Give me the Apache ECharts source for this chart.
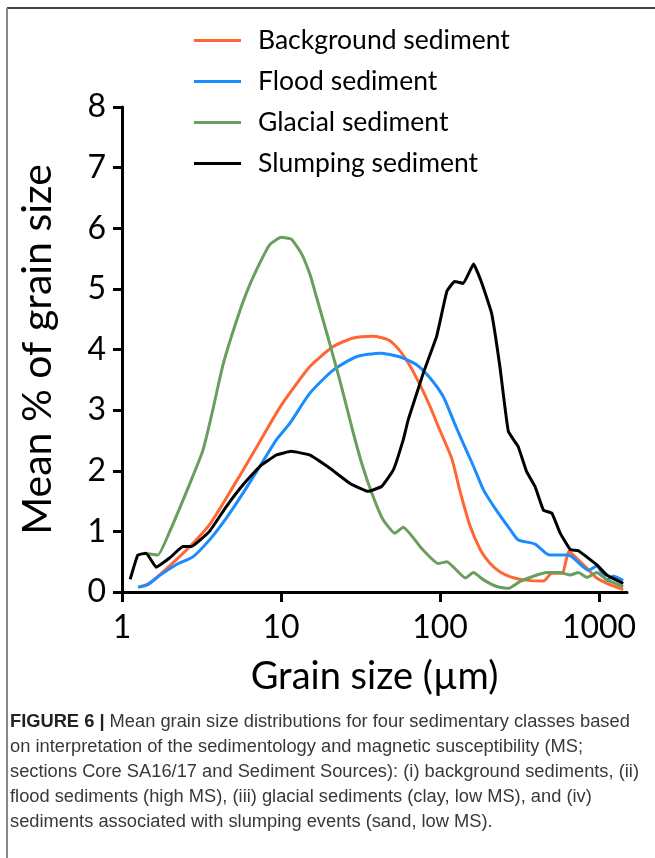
<!DOCTYPE html>
<html>
<head>
<meta charset="utf-8">
<script src="https://cdn.jsdelivr.net/npm/echarts@6/dist/echarts.min.js"></script>
<style>
  html, body { margin: 0; padding: 0; background: #fff; }
  #chart { width: 655px; height: 858px; }
</style>
</head>
<body>
<div id="chart"></div>
<script>
// Grain size (µm) and mean % per sediment class
const bgSize = [1.28, 1.45, 1.72, 2.19, 2.79, 3.55, 4.53, 5.77, 7.35, 9.6, 11.35, 15.2, 21.3, 28.5, 38, 47.2, 55.5, 64.1, 74.1, 86.6, 97.5, 118.6, 134, 154, 180, 207, 239, 278, 336, 447, 505, 585, 648, 708, 840, 967, 1170, 1420];
const bgPct = [0.08, 0.13, 0.28, 0.53, 0.80, 1.11, 1.55, 2.01, 2.48, 3.00, 3.28, 3.72, 4.05, 4.19, 4.22, 4.16, 3.99, 3.75, 3.44, 3.06, 2.73, 2.20, 1.65, 1.10, 0.69, 0.47, 0.33, 0.25, 0.20, 0.18, 0.31, 0.31, 0.67, 0.58, 0.39, 0.23, 0.12, 0.04];

const floodSize = [1.26, 1.45, 1.72, 2.19, 2.79, 3.55, 4.53, 5.77, 7.35, 9.35, 11.35, 15.2, 21.3, 29.8, 42, 55.5, 71.2, 86.6, 105, 123.5, 140, 162.6, 188, 222, 278, 310, 396, 487, 640, 860, 967, 1120, 1230, 1420];
const floodPct = [0.08, 0.12, 0.27, 0.45, 0.58, 0.86, 1.22, 1.63, 2.07, 2.51, 2.78, 3.28, 3.66, 3.88, 3.94, 3.88, 3.75, 3.53, 3.22, 2.78, 2.45, 2.07, 1.68, 1.38, 1.02, 0.86, 0.79, 0.61, 0.61, 0.36, 0.43, 0.20, 0.26, 0.19];

const glacialSize = [1.45, 1.68, 1.99, 2.73, 3.23, 3.64, 4.32, 5.11, 6.05, 7.0, 8.5, 10.04, 11.6, 13.4, 15.2, 16.7, 19.7, 23.4, 27.8, 32.2, 38, 43.9, 52, 58.7, 76.6, 97.5, 110.4, 144.6, 162, 188, 227, 269, 317, 387, 469, 570, 660, 742, 840, 967, 1120, 1420];
const glacialPct = [0.63, 0.61, 0.99, 1.85, 2.34, 2.89, 3.75, 4.38, 4.93, 5.31, 5.73, 5.85, 5.82, 5.59, 5.24, 4.87, 4.21, 3.50, 2.73, 2.12, 1.57, 1.19, 0.97, 1.07, 0.72, 0.47, 0.50, 0.23, 0.32, 0.20, 0.09, 0.06, 0.17, 0.26, 0.32, 0.32, 0.28, 0.32, 0.24, 0.32, 0.20, 0.09];

const slumpSize = [1.126, 1.258, 1.42, 1.64, 1.99, 2.42, 2.73, 3.55, 4.53, 5.77, 7.35, 9.35, 11.6, 15.1, 20.3, 27.2, 35.3, 42.9, 50.8, 58.7, 63.1, 78.5, 95.3, 110.5, 123.5, 140, 162.6, 183.5, 211, 238, 269, 310, 350, 396, 447, 505, 570, 660, 742, 967, 1120, 1420];
const slumpPct = [0.21, 0.61, 0.64, 0.41, 0.56, 0.75, 0.75, 1.00, 1.41, 1.77, 2.07, 2.26, 2.32, 2.26, 2.04, 1.79, 1.66, 1.74, 2.01, 2.51, 2.84, 3.61, 4.22, 4.96, 5.12, 5.09, 5.41, 5.09, 4.60, 3.72, 2.65, 2.40, 1.99, 1.74, 1.35, 1.30, 0.97, 0.70, 0.68, 0.45, 0.28, 0.14];

const seriesNames = ['Background sediment', 'Flood sediment', 'Glacial sediment', 'Slumping sediment'];
const xTicks = [1, 10, 100, 1000];

const captionLines = [
  ['FIGURE 6 | ', 'Mean grain size distributions for four sedimentary classes based'],
  ['', 'on interpretation of the sedimentology and magnetic susceptibility (MS;'],
  ['', 'sections Core SA16/17 and Sediment Sources): (i) background sediments, (ii)'],
  ['', 'flood sediments (high MS), (iii) glacial sediments (clay, low MS), and (iv)'],
  ['', 'sediments associated with slumping events (sand, low MS).']
];

const zip = (xs, ys) => xs.map((x, i) => [x, ys[i]]);
const FONT = 'Lato, "Open Sans", sans-serif';
const CAP_FONT = '"Liberation Sans", Arial, sans-serif';

const chart = echarts.init(document.getElementById('chart'), null, { renderer: 'canvas' });

function lineSeries(name, data, color, smooth) {
  return {
    name, type: 'line', data, symbol: 'none', smooth,
    lineStyle: { color, width: 3 }, itemStyle: { color },
    emphasis: { disabled: true }, animation: false
  };
}

const captionGraphics = captionLines.map((ln, i) => ({
  type: 'text', left: 10, top: 713 + i * 25,
  style: {
    text: (ln[0] ? '{b|' + ln[0] + '}' : '') + '{r|' + ln[1] + '}',
    rich: {
      b: { fontFamily: CAP_FONT, fontSize: 18.3, fontWeight: 'bold', fill: '#222' },
      r: { fontFamily: CAP_FONT, fontSize: 18.3, fill: '#383838' }
    }
  }
}));

chart.setOption({
  backgroundColor: '#fff',
  animation: false,
  grid: { left: 122, top: 107, right: 28, bottom: 266, containLabel: false },
  legend: {
    orient: 'vertical', left: 194, top: 27, padding: 0,
    icon: 'rect', itemWidth: 47, itemHeight: 3, itemGap: 14,
    data: seriesNames,
    textStyle: { fontFamily: FONT, fontSize: 26.5, lineHeight: 26, color: '#000', padding: [0, 0, 0, 12] },
    selectedMode: false
  },
  xAxis: {
    type: 'log', logBase: 10, min: 1, max: 1500,
    name: 'Grain size (µm)', nameLocation: 'middle', nameGap: 66,
    nameTextStyle: { fontFamily: FONT, fontSize: 38, color: '#000' },
    axisLine: { lineStyle: { color: '#000', width: 3 } },
    axisTick: { length: 10, lineStyle: { color: '#000', width: 3 }, customValues: xTicks },
    axisLabel: { fontFamily: FONT, fontSize: 32, color: '#000', margin: 20, customValues: xTicks, formatter: v => String(v) },
    splitLine: { show: false }, minorTick: { show: false }
  },
  yAxis: {
    type: 'value', min: 0, max: 8, interval: 1,
    name: 'Mean % of grain size', nameLocation: 'middle', nameGap: 64,
    nameTextStyle: { fontFamily: FONT, fontSize: 41, color: '#000' },
    axisLine: { show: true, lineStyle: { color: '#000', width: 3 } },
    axisTick: { show: true, length: 9, lineStyle: { color: '#000', width: 3 } },
    axisLabel: { fontFamily: FONT, fontSize: 32, color: '#000', margin: 16 },
    splitLine: { show: false }
  },
  graphic: [
    { type: 'line', shape: { x1: 7, y1: 8, x2: 655, y2: 8 }, style: { stroke: '#444', lineWidth: 2 } },
    { type: 'line', shape: { x1: 7, y1: 8, x2: 7, y2: 858 }, style: { stroke: '#888', lineWidth: 2 } }
  ].concat(captionGraphics),
  series: [
    lineSeries(seriesNames[0], zip(bgSize, bgPct), '#FF6633', 0.2),
    lineSeries(seriesNames[1], zip(floodSize, floodPct), '#1A8CFF', 0.2),
    lineSeries(seriesNames[2], zip(glacialSize, glacialPct), '#6A9E5E', 0.15),
    lineSeries(seriesNames[3], zip(slumpSize, slumpPct), '#000000', 0.1)
  ]
});
</script>
</body>
</html>
